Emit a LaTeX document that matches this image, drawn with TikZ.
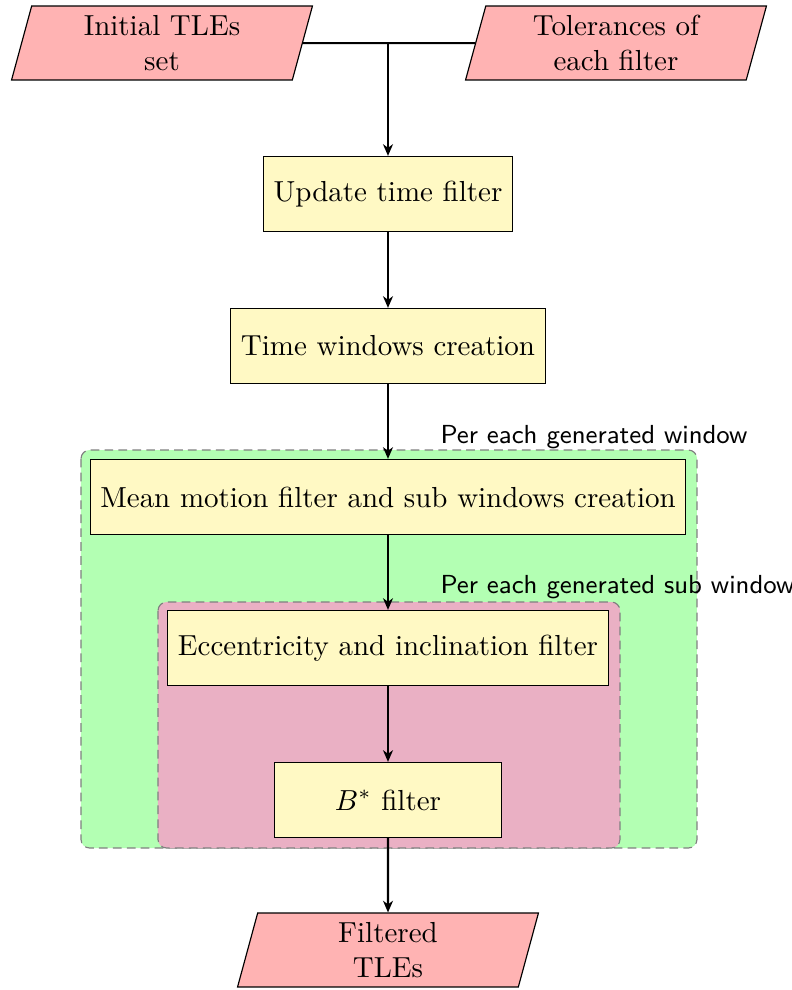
\documentclass[tikz,border=0pt]{standalone}
\usetikzlibrary{shapes.geometric,arrows.meta}
\definecolor{iofill}{RGB}{255,179,179}
\definecolor{boxfill}{RGB}{255,249,196}
\definecolor{outerfill}{RGB}{179,255,179}
\definecolor{innerfill}{RGB}{234,176,196}
\begin{document}
\begin{tikzpicture}[x=0.345pt,y=-0.345pt,
  iobox/.style={trapezium, trapezium left angle=70, trapezium right angle=110,
    trapezium stretches body, draw, fill=iofill, minimum width=103.8pt,
    minimum height=25.5pt, align=center, inner sep=0pt},
  procbox/.style={rectangle, draw, fill=boxfill, minimum height=25.9pt,
    minimum width=78.3pt, inner xsep=3.5pt},
  region/.style={draw=gray, dashed, dash pattern=on 3pt off 1.8pt, rounded corners=3pt},
  regionlabel/.style={font=\sffamily\small, inner sep=0pt, anchor=base west},
  conn/.style={line width=0.7pt},
  arr/.style={-{Stealth[length=4pt,width=3.4pt,inset=1.2pt]}, line width=0.7pt}]
\useasboundingbox (0,0) rectangle (792,990);
% regions
\draw[region, fill=outerfill] (81,450) rectangle (697,848);
\draw[region, fill=innerfill] (158,602) rectangle (620,848);
\node[regionlabel] (lab1) at (440,443) {Per each generated window};
\node[regionlabel] (lab2) at (440,593) {Per each generated sub window};
% nodes
\node[iobox] (init) at (162,43) {Initial TLEs\\set};
\node[iobox] (tol) at (616,43) {Tolerances of\\each filter};
\node[procbox] (upd) at (388,194) {Update time filter};
\node[procbox] (tw) at (388,346) {Time windows creation};
\node[procbox] (mm) at (388,497) {Mean motion filter and sub windows creation};
\node[procbox] (ecc) at (388,648) {Eccentricity and inclination filter};
\node[procbox] (bst) at (388,800) {$B^{*}$ filter};
\node[iobox] (out) at (388,950) {Filtered\\TLEs};
% connectors
\coordinate (j) at (388,44);
\draw[conn] (init.east) -- (tol.west);
\draw[arr] (j) -- (upd);
\draw[arr] (upd) -- (tw);
\draw[arr] (tw) -- (mm);
\draw[arr] (mm) -- (ecc);
\draw[arr] (ecc) -- (bst);
\draw[arr] (bst) -- (out);
\end{tikzpicture}
\end{document}
